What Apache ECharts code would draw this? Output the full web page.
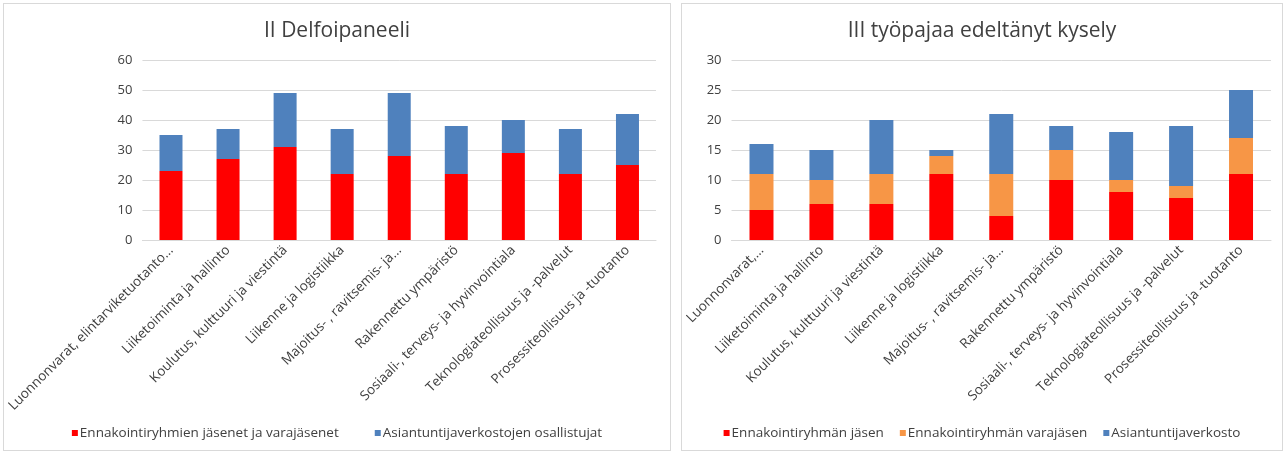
<!DOCTYPE html>
<html><head><meta charset="utf-8">
<script src="https://cdn.jsdelivr.net/npm/echarts@6/dist/echarts.min.js"></script>
<style>
html,body{margin:0;padding:0;background:#fff;width:1285px;height:451px;overflow:hidden;}
.panel{position:absolute;border:1px solid #D9D9D9;background:#fff;box-sizing:border-box;}
</style></head>
<body>
<div id="c1" class="panel" style="left:3px;top:3px;width:668px;height:448px;"></div>
<div id="c2" class="panel" style="left:681px;top:3px;width:602px;height:448px;"></div>
<script>
const categoriesLeft = ["Luonnonvarat, elintarviketuotanto...", "Liiketoiminta ja hallinto", "Koulutus, kulttuuri ja viestintä", "Liikenne ja logistiikka", "Majoitus- , ravitsemis- ja...", "Rakennettu ympäristö", "Sosiaali-, terveys- ja hyvinvointiala", "Teknologiateollisuus ja -palvelut", "Prosessiteollisuus ja -tuotanto"];
const categoriesRight = ["Luonnonvarat,...", "Liiketoiminta ja hallinto", "Koulutus, kulttuuri ja viestintä", "Liikenne ja logistiikka", "Majoitus- , ravitsemis- ja...", "Rakennettu ympäristö", "Sosiaali-, terveys- ja hyvinvointiala", "Teknologiateollisuus ja -palvelut", "Prosessiteollisuus ja -tuotanto"];

const leftMembers = [23, 27, 31, 22, 28, 22, 29, 22, 25];
const leftNetwork = [12, 10, 18, 15, 21, 16, 11, 15, 17];

const rightMember = [5, 6, 6, 11, 4, 10, 8, 7, 11];
const rightDeputy = [6, 4, 5, 3, 7, 5, 2, 2, 6];
const rightNetwork = [5, 5, 9, 1, 10, 4, 8, 10, 8];

const titleLeft = "II Delfoipaneeli";
const titleRight = "III työpajaa edeltänyt kysely";
const namesLeft = ["Ennakointiryhmien jäsenet ja varajäsenet", "Asiantuntijaverkostojen osallistujat"];
const namesRight = ["Ennakointiryhmän jäsen", "Ennakointiryhmän varajäsen", "Asiantuntijaverkosto"];

const RED = "#FF0000", ORANGE = "#F79646", BLUE = "#4F81BD";
const FONT = "Open Sans";
const TXT = "#404040";

function baseOpt(title, cats, gridLeft, gridWidth, yMax, yInt) {
  return {
    animation: false,
    textStyle: {fontFamily: FONT},
    title: {text: title, left: 'center', top: 12, textStyle: {fontFamily: FONT, fontSize: 21, fontWeight: 'normal', color: '#404040'}},
    grid: {left: gridLeft, width: gridWidth, top: 56, height: 180},
    xAxis: {
      type: 'category', data: cats,
      axisLine: {lineStyle: {color: '#D9D9D9'}},
      axisTick: {show: false},
      axisLabel: {interval: 0, rotate: 45, fontSize: 13.5, color: TXT, fontFamily: FONT, margin: 8}
    },
    yAxis: {
      type: 'value', min: 0, max: yMax, interval: yInt,
      axisLine: {show: false}, axisTick: {show: false},
      axisLabel: {fontSize: 13, color: TXT, fontFamily: FONT, margin: 10},
      splitLine: {lineStyle: {color: '#D9D9D9'}}
    },
    legend: {
      bottom: 5, left: 'center', itemWidth: 6, itemHeight: 6, itemGap: 30,
      icon: 'rect',
      textStyle: {fontSize: 13.5, color: TXT, fontFamily: FONT, padding: [0,0,0,-3]}
    }
  };
}

const o1 = baseOpt(titleLeft, categoriesLeft, 138, 514, 60, 10);
o1.series = [
  {name: namesLeft[0], type: 'bar', stack: 's', data: leftMembers, itemStyle: {color: RED}, barWidth: 23},
  {name: namesLeft[1], type: 'bar', stack: 's', data: leftNetwork, itemStyle: {color: BLUE}, barWidth: 23}
];
o1.legend.itemGap = 36;

const o2 = baseOpt(titleRight, categoriesRight, 47, 542, 30, 5);
o2.series = [
  {name: namesRight[0], type: 'bar', stack: 's', data: rightMember, itemStyle: {color: RED}, barWidth: 24},
  {name: namesRight[1], type: 'bar', stack: 's', data: rightDeputy, itemStyle: {color: ORANGE}, barWidth: 24},
  {name: namesRight[2], type: 'bar', stack: 's', data: rightNetwork, itemStyle: {color: BLUE}, barWidth: 24}
];
o2.legend.itemGap = 16;

echarts.init(document.getElementById('c1')).setOption(o1);
echarts.init(document.getElementById('c2')).setOption(o2);
</script>
</body></html>
